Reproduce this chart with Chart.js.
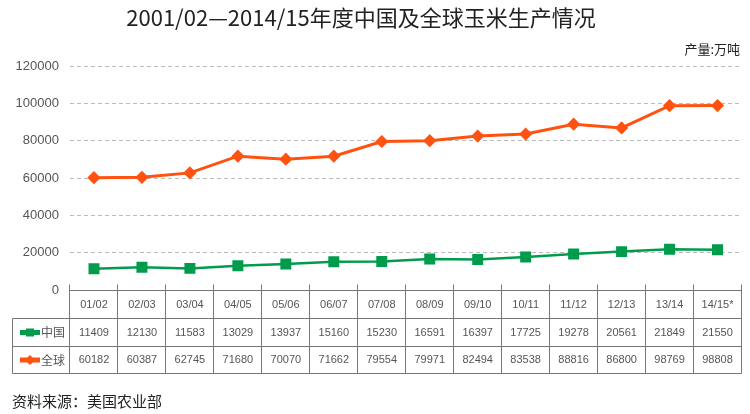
<!DOCTYPE html>
<html>
<head>
<meta charset="utf-8">
<script src="https://cdn.jsdelivr.net/npm/chart.js@4"></script>
<style>
  body { margin: 0; background: #fff; }
  canvas { display: block; }
</style>
</head>
<body>
<canvas id="canvas" width="750" height="414"></canvas>
<script>
// data (unit: 万吨)
const years = ['01/02', '02/03', '03/04', '04/05', '05/06', '06/07', '07/08',
  '08/09', '09/10', '10/11', '11/12', '12/13', '13/14', '14/15*'];
const china = [11409, 12130, 11583, 13029, 13937, 15160, 15230,
  16591, 16397, 17725, 19278, 20561, 21849, 21550];
const world = [60182, 60387, 62745, 71680, 70070, 71662, 79554,
  79971, 82494, 83538, 88816, 86800, 98769, 98808];
const seriesNames = ['中国', '全球'];
const yTicks = [0, 20000, 40000, 60000, 80000, 100000, 120000];

const titleText = '2001/02—2014/15年度中国及全球玉米生产情况';
const unitText = '产量:万吨';
const sourceText = '资料来源：美国农业部';

const green = 'rgb(0,156,76)';
const orange = 'rgb(255,82,16)';
const cjk = '"Noto Sans CJK SC", sans-serif';
const latin = '"Liberation Sans", Arial, sans-serif';

function drawMarker(ctx, style, x, y, r, color) {
  ctx.fillStyle = color;
  ctx.beginPath();
  if (style === 'rect') {
    ctx.rect(x - r, y - r, r * 2, r * 2);
  } else {
    ctx.moveTo(x, y - r); ctx.lineTo(x + r, y); ctx.lineTo(x, y + r); ctx.lineTo(x - r, y);
    ctx.closePath();
  }
  ctx.fill();
}

// title, unit, source line and the data table under the plot
const tablePlugin = {
  id: 'dataTable',
  afterDraw(chart) {
    const ctx = chart.ctx;
    const area = chart.chartArea;
    const xs = chart.scales.x;
    const n = years.length;
    const w = (area.right - area.left) / n;
    const top = Math.round(area.bottom) + 0.5;
    const rows = [top, top + 28, top + 56, top + 83];
    const left = 12.5;

    ctx.save();
    // title
    ctx.fillStyle = '#222';
    ctx.textAlign = 'center';
    ctx.textBaseline = 'middle';
    ctx.font = '22px ' + cjk;
    ctx.fillText(titleText, 361, 18, 503);
    ctx.textAlign = 'right';
    ctx.font = '13px ' + cjk;
    ctx.fillText(unitText, 740, 49);
    ctx.textAlign = 'left';
    ctx.font = '15px ' + cjk;
    ctx.fillText(sourceText, 12, 401);

    // table lines
    ctx.strokeStyle = '#777';
    ctx.lineWidth = 1;
    ctx.beginPath();
    ctx.moveTo(area.left, rows[0]); ctx.lineTo(area.right, rows[0]);
    for (let r = 1; r < 4; r++) {
      ctx.moveTo(left, rows[r]); ctx.lineTo(area.right, rows[r]);
    }
    ctx.moveTo(left, rows[1]); ctx.lineTo(left, rows[3]);
    for (let i = 0; i <= n; i++) {
      const bx = Math.round(area.left + i * w) - 0.5;
      ctx.moveTo(bx, rows[0] - 6); ctx.lineTo(bx, rows[3]);
    }
    ctx.stroke();

    // header + values
    ctx.textAlign = 'center';
    ctx.fillStyle = '#555';
    ctx.font = '11px ' + latin;
    years.forEach((lab, i) => {
      const cx = xs.getPixelForValue(i);
      ctx.fillText(lab, cx, (rows[0] + rows[1]) / 2);
      ctx.fillText(String(china[i]), cx, (rows[1] + rows[2]) / 2);
      ctx.fillText(String(world[i]), cx, (rows[2] + rows[3]) / 2);
    });

    // row labels with small legend marks
    const marks = [['rect', green], ['diamond', orange]];
    for (let r = 0; r < 2; r++) {
      const cy = (rows[r + 1] + rows[r + 2]) / 2;
      const [style, color] = marks[r];
      ctx.fillStyle = color;
      ctx.fillRect(20, cy - 2.5, 20, 5);
      drawMarker(ctx, style, 30, cy, style === 'rect' ? 4 : 5, color);
      ctx.fillStyle = '#555';
      ctx.textAlign = 'left';
      ctx.font = '12px ' + cjk;
      ctx.fillText(seriesNames[r], 41, cy);
    }
    ctx.restore();
  }
};

const ctx = document.getElementById('canvas');
const myChart = new Chart(ctx, {
  type: 'line',
  data: {
    labels: years,
    datasets: [{
      label: seriesNames[1],
      data: world,
      borderColor: orange,
      backgroundColor: orange,
      borderWidth: 3,
      pointStyle: 'rectRot',
      pointRadius: 4.5,
      pointHoverRadius: 4.5
    }, {
      label: seriesNames[0],
      data: china,
      borderColor: green,
      backgroundColor: green,
      borderWidth: 2.5,
      pointStyle: 'rect',
      pointRadius: 6,
      pointHoverRadius: 6
    }]
  },
  options: {
    responsive: false,
    animation: false,
    layout: { padding: { top: 66, bottom: 124, left: 0, right: 8 } },
    plugins: {
      legend: { display: false },
      title: { display: false },
      tooltip: { enabled: false }
    },
    scales: {
      x: {
        display: false,
        offset: true
      },
      y: {
        min: 0,
        max: 120000,
        afterFit: (scale) => { scale.width = 70; },
        afterBuildTicks: (scale) => { scale.ticks = yTicks.map(v => ({ value: v })); },
        border: { display: false, dash: [4, 3] },
        grid: { color: '#bbb', lineWidth: 1, drawTicks: false },
        ticks: {
          padding: 11,
          color: '#555',
          font: { family: 'Liberation Sans', size: 13 },
          callback: (v) => String(v)
        }
      }
    }
  },
  plugins: [tablePlugin]
});
</script>
</body>
</html>
